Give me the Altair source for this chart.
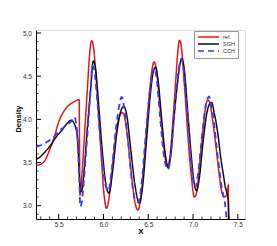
import altair as alt
import pandas as pd

# ---- data ----
ref_x = [5.25, 5.30, 5.35, 5.40, 5.45, 5.50, 5.55, 5.60, 5.65, 5.70, 5.728, 5.738, 5.76, 5.78,
         5.82, 5.845, 5.868, 5.89, 5.92, 5.95, 5.98, 6.00, 6.036, 6.07, 6.11, 6.15, 6.185, 6.21,
         6.235, 6.27, 6.31, 6.35, 6.383, 6.42, 6.46, 6.50, 6.535, 6.564, 6.59, 6.63, 6.67, 6.695,
         6.715, 6.74, 6.78, 6.81, 6.83, 6.848, 6.865, 6.90, 6.94, 6.98, 7.015, 7.04, 7.08, 7.12,
         7.145, 7.165, 7.185, 7.22, 7.26, 7.29, 7.32, 7.348, 7.375, 7.388, 7.393, 7.396]
ref_y = [3.47, 3.48, 3.53, 3.65, 3.79, 3.97, 4.08, 4.15, 4.19, 4.22, 4.23, 3.12, 3.35, 3.68,
         4.34, 4.75, 4.91, 4.83, 4.45, 3.97, 3.50, 3.20, 2.97, 3.15, 3.55, 3.90, 4.05, 4.08,
         4.03, 3.78, 3.38, 3.05, 2.95, 3.12, 3.60, 4.15, 4.52, 4.665, 4.58, 4.15, 3.72, 3.52,
         3.46, 3.55, 4.05, 4.50, 4.78, 4.915, 4.87, 4.45, 3.85, 3.35, 3.10, 3.15, 3.55, 3.97,
         4.17, 4.225, 4.20, 3.98, 3.65, 3.38, 3.16, 3.10, 3.12, 3.20, 3.24, 2.80]

sgh_x = [5.25, 5.30, 5.336, 5.41, 5.46, 5.54, 5.596, 5.64, 5.678, 5.708, 5.745, 5.765, 5.782,
         5.819, 5.857, 5.886, 5.91, 5.95, 5.99, 6.03, 6.062, 6.10, 6.15, 6.195, 6.228, 6.26,
         6.30, 6.35, 6.40, 6.44, 6.48, 6.52, 6.552, 6.582, 6.61, 6.65, 6.69, 6.722, 6.75, 6.79,
         6.83, 6.856, 6.875, 6.90, 6.94, 6.98, 7.01, 7.04, 7.07, 7.11, 7.15, 7.18, 7.208, 7.235,
         7.26, 7.281, 7.31, 7.337, 7.36, 7.375, 7.393, 7.40]
sgh_y = [3.54, 3.57, 3.61, 3.70, 3.78, 3.88, 3.955, 3.99, 3.94, 3.80, 3.16, 3.20, 3.38,
         3.88, 4.35, 4.675, 4.60, 4.12, 3.60, 3.23, 3.145, 3.38, 3.85, 4.10, 4.15, 4.05,
         3.70, 3.25, 3.03, 3.25, 3.75, 4.25, 4.53, 4.605, 4.45, 4.00, 3.60, 3.44, 3.58, 4.05,
         4.45, 4.65, 4.705, 4.60, 4.10, 3.58, 3.28, 3.175, 3.32, 3.72, 4.05, 4.17, 4.195, 4.08,
         3.95, 3.80, 3.55, 3.37, 3.22, 3.16, 3.066, 2.80]

cch_x = [5.25, 5.30, 5.373, 5.447, 5.52, 5.596, 5.652, 5.675, 5.70, 5.727, 5.742, 5.76, 5.782,
         5.819, 5.85, 5.878, 5.90, 5.94, 5.98, 6.02, 6.055, 6.09, 6.14, 6.18, 6.203, 6.23, 6.27,
         6.31, 6.35, 6.39, 6.43, 6.47, 6.51, 6.54, 6.567, 6.59, 6.63, 6.67, 6.70, 6.722, 6.75,
         6.79, 6.83, 6.852, 6.868, 6.89, 6.93, 6.97, 7.00, 7.025, 7.06, 7.10, 7.14, 7.162, 7.178,
         7.20, 7.235, 7.263, 7.29, 7.319, 7.356, 7.38]
cch_y = [3.685, 3.70, 3.74, 3.80, 3.88, 3.94, 3.99, 4.03, 3.92, 3.45, 2.99, 3.05, 3.30,
         3.80, 4.25, 4.62, 4.55, 4.10, 3.60, 3.25, 3.17, 3.40, 3.90, 4.18, 4.26, 4.15, 3.80,
         3.35, 3.08, 3.04, 3.30, 3.80, 4.25, 4.50, 4.59, 4.50, 4.05, 3.62, 3.45, 3.42, 3.58,
         4.05, 4.50, 4.65, 4.70, 4.62, 4.15, 3.60, 3.30, 3.21, 3.40, 3.80, 4.15, 4.24, 4.265,
         4.18, 3.95, 3.685, 3.45, 3.22, 3.03, 2.80]

series_names = ["ref.", "SGH", "CCH"]
series_colors = ["#e01818", "#111111", "#3a3aff"]
series_dash = [[1, 0], [1, 0], [6, 4]]

x_major = [5.5, 6.0, 6.5, 7.0, 7.5]
x_minor = [round(5.3 + 0.1 * i, 2) for i in range(23) if round(5.3 + 0.1 * i, 2) not in x_major]
y_major = [3.0, 3.5, 4.0, 4.5, 5.0]
y_minor = [round(2.9 + 0.1 * i, 2) for i in range(22) if round(2.9 + 0.1 * i, 2) not in y_major]

W, H = 209, 189
XDOM = [5.247, 7.58]
YDOM = [2.846, 5.035]

frames = []
for name, xs, ys in zip(series_names, [ref_x, sgh_x, cch_x], [ref_y, sgh_y, cch_y]):
    frames.append(pd.DataFrame({"x": xs, "y": ys, "series": name}))
df = pd.concat(frames, ignore_index=True)

xscale = alt.Scale(domain=XDOM, nice=False, zero=False)
yscale = alt.Scale(domain=YDOM, nice=False, zero=False)
color_scale = alt.Scale(domain=series_names, range=series_colors)
dash_scale = alt.Scale(domain=series_names, range=series_dash)

FONT = "Liberation Sans"
legend = alt.Legend(title=None, orient="none", legendX=158, legendY=1,
                    symbolType="stroke", symbolSize=441, symbolStrokeWidth=1.6,
                    clipHeight=6,
                    labelFontSize=5.5, labelFont=FONT, labelColor="#333",
                    strokeColor="#999", padding=3, rowPadding=0, labelOffset=3,
                    fillColor="white", symbolLimit=0)

xaxis = alt.Axis(values=x_major, ticks=False, grid=False, title="X",
                 labelFontSize=6.5, labelFont=FONT, labelColor="#333",
                 labelPadding=2, titleFontSize=8, titleFont=FONT,
                 titleFontWeight="bold", titleX=W / 2, titleY=8, titleBaseline="top",
                 domainColor="black", labelFlush=False)
yaxis = alt.Axis(values=y_major, ticks=False, grid=False, title="Density",
                 labelFontSize=6.5, labelFont=FONT, labelColor="#333",
                 labelPadding=4.5, titleFontSize=7.5, titleFont=FONT,
                 titleFontWeight="bold", titleX=-14, titleY=88.5, titleAngle=270,
                 titleBaseline="bottom", titleAlign="center",
                 domainColor="black", labelFlush=False, format="g")

layers = []
for i, name in enumerate(series_names):
    sub = df[df["series"] == name]
    enc = dict(
        x=alt.X("x:Q", scale=xscale, axis=xaxis),
        y=alt.Y("y:Q", scale=yscale, axis=yaxis),
        color=alt.Color("series:N", scale=color_scale, sort=series_names, legend=legend),
        strokeDash=alt.StrokeDash("series:N", scale=dash_scale, sort=series_names, legend=legend),
        order=alt.Order("x:Q"),
    )
    layers.append(
        alt.Chart(sub).mark_line(clip=True, interpolate="monotone",
                                 strokeWidth=1.8 if name == "CCH" else 1.5).encode(**enc)
    )

# inward tick marks (Tecplot style)
xt = pd.DataFrame({"x": x_major + x_minor, "len": [5] * len(x_major) + [2.5] * len(x_minor)})
yt = pd.DataFrame({"y": y_major + y_minor, "len": [5] * len(y_major) + [2.5] * len(y_minor)})

xticks_major = alt.Chart(xt[xt["len"] == 5]).mark_rule(color="black", strokeWidth=1).encode(
    x=alt.X("x:Q", scale=xscale, axis=xaxis), y=alt.value(H), y2=alt.value(H - 5))
xticks_minor = alt.Chart(xt[xt["len"] < 5]).mark_rule(color="black", strokeWidth=0.8).encode(
    x=alt.X("x:Q", scale=xscale, axis=xaxis), y=alt.value(H), y2=alt.value(H - 2.5))
yticks_major = alt.Chart(yt[yt["len"] == 5]).mark_rule(color="black", strokeWidth=1).encode(
    y=alt.Y("y:Q", scale=yscale, axis=yaxis), x=alt.value(0), x2=alt.value(5))
yticks_minor = alt.Chart(yt[yt["len"] < 5]).mark_rule(color="black", strokeWidth=0.8).encode(
    y=alt.Y("y:Q", scale=yscale, axis=yaxis), x=alt.value(0), x2=alt.value(2.5))

chart = alt.layer(*layers, xticks_major, xticks_minor, yticks_major, yticks_minor).properties(
    width=W, height=H,
    autosize=alt.AutoSizeParams(type="none"),
    padding={"left": 28, "top": 22, "right": 24, "bottom": 27},
).configure_view(stroke=None).configure(background="white")

chart.save("out.html", embed_options={"renderer": "svg", "actions": False})
